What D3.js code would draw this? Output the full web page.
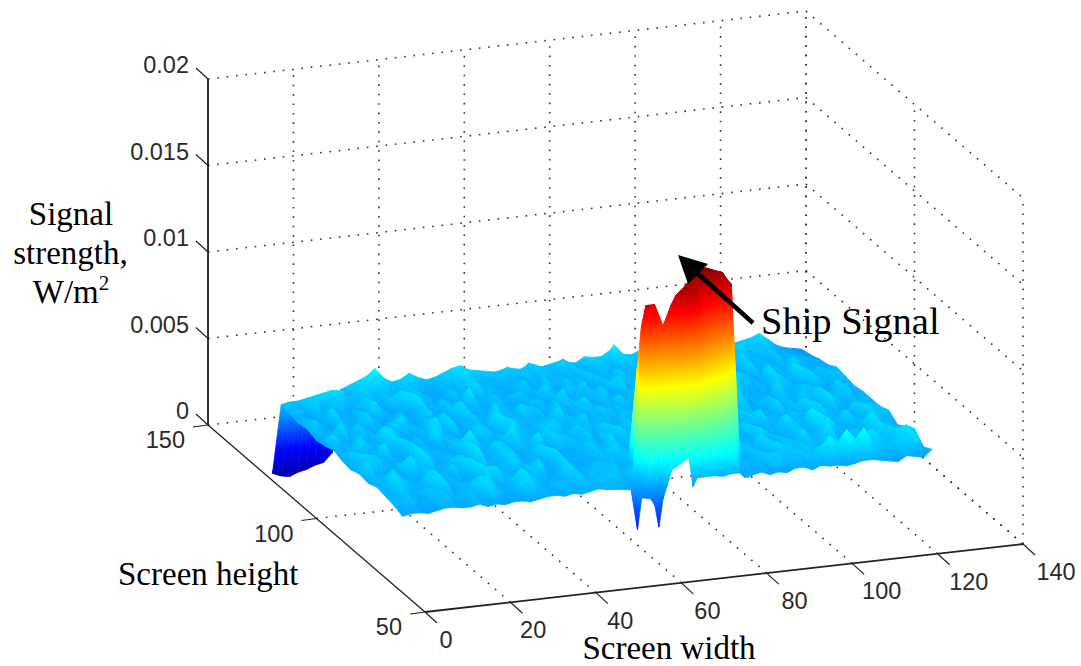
<!DOCTYPE html>
<html>
<head>
<meta charset="utf-8">
<script src="https://cdn.jsdelivr.net/npm/d3@7"></script>
<style>
  html, body { margin: 0; padding: 0; background: #fff; }
  .tick-label { font-family: "Liberation Sans", Arial, sans-serif; font-size: 23.5px; fill: #2a2a2a; }
  .serif-label { font-family: "Liberation Serif", "Times New Roman", serif; font-size: 33px; fill: #000; }
</style>
</head>
<body>
<div class="chart"></div>
<script>
const xTicks = [0, 20, 40, 60, 80, 100, 120, 140];
const yTicks = [50, 100, 150];
const zTicks = [0, 0.005, 0.01, 0.015, 0.02];

// Screen width positions of the surface columns (tighter around the ship)
const widthVals = [10, 12, 14, 16, 18, 20, 22, 24, 26, 28, 30, 32, 34, 36, 38, 40, 42, 44, 46, 48, 50, 52, 54, 56, 58,
    62, 64, 65, 66, 68, 69, 70, 71, 73, 75,
    77, 78, 79, 81, 83, 85, 87, 89, 90, 91,
    92, 94, 96, 98, 100, 102, 104, 106, 108, 110, 112, 114, 116, 118, 120, 122, 124, 126, 128, 130, 132, 134];

// Screen height of the surface rows, back to front
const heightVals = [140, 136, 132, 128, 124, 120, 116, 112, 108, 104, 100, 96, 92, 88, 84, 80];

// Signal, in units of 0.0001 W/m2, one line per row
const signalRows = [
    [-20, -22, -23, -21, -20, -18, -17, -12, 24, 26, 28, 30, 34, 28, 25, 26, 29, 26, 24, 25, 27, 29, 30, 27, 26,  24, 25, 26, 25, 24, 25, 27, 26, 24, 25,  26, 27, 25, 24, 27, 26, 26, 29, 32, 29,  26, 25, 27, 26, 25, 27, 28, 26, 26, 25, 27, 26, 25, 25, 26, 27, 29, 25, 21, 19, 18, 17],
    [24, 25, 25, 26, 27, 28, 29, 28, 23, 23, 26, 23, 24, 22, 22, 25, 23, 21, 21, 23, 22, 24, 26, 23, 22,  24, 21, 23, 22, 24, 23, 21, 25, 23, 22,  24, 22, 26, 23, 22, 25, 23, 21, 24, 22,  25, 22, 23, 26, 22, 21, 23, 26, 22, 21, 25, 22, 23, 27, 22, 24, 25, 22, 21, 20, 19, 18],
    [23, 22, 21, 27, 22, 22, 24, 21, 23, 27, 22, 21, 25, 29, 23, 22, 24, 21, 21, 26, 22, 22, 28, 23, 23,  21, 24, 27, 23, 21, 22, 26, 23, 22, 25,  22, 24, 21, 26, 23, 22, 27, 24, 21, 23,  22, 27, 23, 22, 21, 24, 22, 29, 23, 22, 21, 23, 28, 22, 23, 21, 25, 22, 23, 22, 21, 20],
    [22, 24, 21, 22, 28, 22, 21, 25, 22, 29, 23, 21, 22, 21, 30, 23, 22, 26, 23, 21, 31, 22, 22, 25, 22,  26, 22, 21, 24, 28, 23, 22, 21, 25, 23,  27, 23, 22, 21, 25, 28, 22, 23, 26, 22,  21, 22, 24, 28, 22, 21, 29, 23, 22, 26, 21, 22, 27, 21, 25, 23, 22, 28, 23, 21, 22, 21],
    [23, 27, 22, 21, 25, 21, 22, 28, 23, 21, 22, 26, 21, 23, 27, 22, 21, 24, 29, 22, 23, 21, 26, 23, 21,  22, 25, 23, 21, 23, 26, 29, 24, 22, 21,  23, 25, 28, 22, 21, 24, 23, 27, 22, 25,  23, 21, 26, 22, 27, 22, 24, 22, 21, 28, 26, 23, 21, 29, 23, 22, 29, 21, 22, 25, 23, 24],
    [21, 22, 24, 29, 22, 27, 23, 21, 22, 26, 29, 23, 21, 25, 22, 28, 22, 21, 27, 23, 22, 29, 23, 22, 28,  24, 21, 23, 27, 22, 21, 23, 25, 28, 23,  21, 23, 22, 27, 24, 22, 26, 21, 23, 26,  28, 23, 22, 21, 24, 26, 22, 28, 30, 23, 22, 23, 21, 27, 25, 22, 23, 28, 24, 21, 26, 23],
    [22, 28, 23, 21, 26, 22, 24, 29, 27, 22, 21, 23, 24, 31, 22, 28, 21, 23, 25, 22, 30, 21, 25, 23, 22,  23, 26, 29, 24, 21, 23, 22, 21, 23, 26,  24, 22, 25, 21, 23, 29, 22, 25, 27, 23,  22, 25, 26, 22, 24, 21, 27, 30, 23, 22, 22, 21, 28, 23, 22, 26, 24, 22, 21, 27, 21, 22],
    [24, 21, 23, 27, 25, 22, 22, 28, 22, 23, 25, 21, 30, 24, 23, 21, 21, 27, 26, 22, 22, 29, 24, 22, 24,  27, 22, 21, 23, 25, 28, 23, 22, 24, 21,  22, 26, 23, 24, 28, 21, 23, 22, 25, 21,  24, 28, 22, 23, 29, 22, 23, 27, 21, 23, 26, 22, 24, 21, 26, 23, 28, 22, 24, 27, 22, 23],
    [22, 26, 25, 22, 22, 29, 21, 22, 28, 24, 23, 22, 21, 24, 26, 31, 24, 22, 22, 25, 29, 23, 23, 22, 27,  21, 24, 27, 22, 23, 21, 24, 27, 21, 23,  27, 23, 21, 26, 22, 24, 29, 23, 21, 24,  22, 23, 21, 25, 29, 27, 22, 23, 22, 22, 28, 22, 24, 28, 22, 22, 29, 24, 21, 23, 23, 23],
    [21, 23, 28, 27, 23, 22, 22, 21, 29, 26, 22, 23, 22, 21, 29, 24, 21, 28, 26, 21, 24, 22, 30, 21, 26,  24, 22, 23, 26, 21, 24, 23, 22, 28, 24,  22, 21, 25, 23, 22, 27, 22, 24, 26, 23,  28, 24, 22, 24, 21, 23, 26, 29, 22, 23, 22, 25, 23, 21, 28, 23, 22, 21, 27, 26, 24, 23],
    [23, 29, 22, 21, 21, 26, 30, 24, 28, 22, 22, 25, 27, 22, 30, 22, 23, 26, 26, 21, 22, 28, 23, 21, 21,  23, 27, 24, 22, 24, 29, 25, 22, 23, 21,  25, 24, 27, 22, 25, 23, 22, 29, 23, 22,  23, 22, 28, 22, 27, 24, 21, 22, 23, 29, 25, 22, 31, 24, 22, 23, 28, 23, 22, 28, 24, 25],
    [22, 23, 24, 28, 23, 22, 21, 26, 23, 22, 27, 22, 29, 22, 24, 21, 23, 28, 23, 22, 25, 21, 29, 23, 22,  22, 26, 23, 24, 28, 24, 25, 22, 23, 26,  22, 23, 24, 24, 26, 25, 24, 25, 24, 26,  22, 27, 23, 23, 21, 28, 24, 22, 22, 25, 23, 22, 27, 29, 24, 22, 22, 25, 30, 24, 22, 21],
    [24, 22, 29, 26, 23, 22, 27, 29, 22, 23, 21, 22, 24, 28, 28, 23, 22, 23, 26, 29, 21, 22, 28, 23, 21,  24, 22, 25, 23, 22, 24, 23, 24, 60, 85,  60, 70, 85, 100, 110, 108, 106, 100, 60, 24,  23, 26, 24, 23, 28, 22, 23, 25, 22, 29, 23, 24, 30, 21, 22, 26, 23, 24, 28, 23, 24, 24],
    [23, 22, 26, 22, 22, 25, 22, 28, 21, 23, 24, 28, 28, 22, 22, 25, 30, 26, 23, 22, 22, 26, 27, 21, 24,  24, 26, 23, 22, 24, 80, 100, 112, 105, 100,  115, 120, 122, 127, 132, 134, 132, 130, 126, 123,  23, 22, 25, 24, 22, 28, 25, 24, 26, 23, 23, 29, 25, 22, 24, 23, 30, 25, 24, 28, 30, 27],
    [22, 23, 24, 21, 21, 24, 26, 22, 23, 24, 22, 28, 25, 21, 21, 27, 27, 23, 21, 24, 24, 22, 26, 23, 24,  25, 22, 24, 26, 110, 121, 121, 121, 108, 120,  127, 128, 131, 125, 100, 85, 70, 55, 22, 23,  24, 22, 22, 26, 27, 23, 23, 25, 24, 28, 33, 29, 36, 30, 36, 28, 25, 24, 26, 27, 29, 21],
    [20, 21, 21, 20, 21, 22, 22, 21, 21, 22, 20, 21, 20, 21, 21, 20, 21, 22, 22, 21, 22, 21, 22, 23, 22,  21, 20, -3, 15, 14, 10, -3, 13, 29, 32,  35, 18, 23, 23, 23, 22, 23, 23, 20, 20,  21, 22, 20, 21, 20, 22, 22, 20, 22, 21, 21, 20, 21, 22, 22, 21, 20, 19, 22, 21, 20, 24]
];

const jetStops = [0, 0.125, 0.375, 0.625, 0.875, 1];
const jetColors = ['#00008f', '#0000ff', '#00ffff', '#ffff00', '#ff0000', '#800000'];
const colorLimits = [-0.0026, 0.0135];

const width = 1081;
const height = 666;
const ink = '#222';

const svg = d3.select('.chart').append('svg')
    .attr('width', width)
    .attr('height', height)
    .style('display', 'block');
const defs = svg.append('defs');

// Oblique 3D axes: every data axis adds its own screen offset to the back corner
const origin = [208, 425];
const xToPx = d3.scaleLinear().domain([0, 140]).range([0, 598]);
const xToPy = d3.scaleLinear().domain([0, 140]).range([0, -68]);
const yToPx = d3.scaleLinear().domain([150, 50]).range([0, 217]);
const yToPy = d3.scaleLinear().domain([150, 50]).range([0, 187]);
const zToPy = d3.scaleLinear().domain([0, 0.02]).range([0, -346]);

const project = (x, y, z) => [
    origin[0] + xToPx(x) + yToPx(y),
    origin[1] + xToPy(x) + yToPy(y) + zToPy(z),
];

const zKnots = jetStops.map(d => colorLimits[0] + d * (colorLimits[1] - colorLimits[0]));
const jet = d3.scaleLinear().domain(zKnots).range(jetColors).clamp(true);

// add the dotted grid on the floor and the two walls
const gridSegments = [];
const addSegment = (a, b) => gridSegments.push([project(...a), project(...b)]);
const zMax = d3.max(zTicks);
xTicks.slice(1).forEach((x) => {
    addSegment([x, 150, 0], [x, 150, zMax]);
    addSegment([x, 50, 0], [x, 150, 0]);
});
yTicks.forEach((y) => {
    addSegment([140, y, 0], [140, y, zMax]);
    if (y > 50) addSegment([0, y, 0], [140, y, 0]);
});
addSegment([140, 50, 0], [140, 150, 0]);
zTicks.slice(1).forEach((z) => {
    addSegment([0, 150, z], [140, 150, z]);
    addSegment([140, 150, z], [140, 50, z]);
});

svg.append('g').selectAll('line')
    .data(gridSegments)
    .join('line')
    .attr('x1', d => d[0][0])
    .attr('y1', d => d[0][1])
    .attr('x2', d => d[1][0])
    .attr('y2', d => d[1][1])
    .attr('stroke', '#333')
    .attr('stroke-width', 1.6)
    .attr('stroke-dasharray', '1.6 7.8');

// Build the surface triangles, far ones first so nearer ones paint over them
const vertex = (i, j) => {
    const z = signalRows[j][i] * 0.0001;
    const [px, py] = project(widthVals[i], heightVals[j], z);
    return {px, py, z};
};
const triangles = [];
heightVals.slice(1).forEach((_, j) => {
    for (let i = widthVals.length - 2; i >= 0; i--) {
        const a = vertex(i, j);
        const b = vertex(i + 1, j);
        const c = vertex(i + 1, j + 1);
        const e = vertex(i, j + 1);
        // split each cell along its flatter diagonal
        if (Math.abs(a.z - c.z) > Math.abs(b.z - e.z)) {
            triangles.push([a, b, e], [b, c, e]);
        } else {
            triangles.push([a, b, c], [a, c, e]);
        }
    }
});

// Colour is linear in a triangle, so one linear gradient across it is enough
const gradientEnds = (tri) => {
    const [lo, mid, hi] = d3.sort(tri, d => d.z);
    if (hi.z === lo.z) return {x1: lo.px, y1: lo.py, x2: hi.px, y2: hi.py};
    const f = (mid.z - lo.z) / (hi.z - lo.z);
    const mx = lo.px + f * (hi.px - lo.px);
    const my = lo.py + f * (hi.py - lo.py);
    const nx = my - mid.py;
    const ny = mid.px - mx;
    const nn = nx * nx + ny * ny;
    if (nn < 1e-6) return {x1: lo.px, y1: lo.py, x2: hi.px, y2: hi.py};
    const s = ((hi.px - lo.px) * nx + (hi.py - lo.py) * ny) / nn;
    return {x1: lo.px, y1: lo.py, x2: lo.px + s * nx, y2: lo.py + s * ny};
};

const gradients = defs.selectAll('linearGradient')
    .data(triangles)
    .join('linearGradient')
    .attr('id', (d, i) => 'face' + i)
    .attr('gradientUnits', 'userSpaceOnUse')
    .each(function (d) {
        const ends = gradientEnds(d);
        d3.select(this).attr('x1', ends.x1).attr('y1', ends.y1).attr('x2', ends.x2).attr('y2', ends.y2);
    });

gradients.selectAll('stop')
    .data((d) => {
        const [lo, hi] = d3.extent(d, v => v.z);
        if (hi === lo) return [{offset: 0, z: lo}, {offset: 1, z: hi}];
        const inner = zKnots.filter(k => k > lo && k < hi);
        return [lo, ...inner, hi].map(z => ({offset: (z - lo) / (hi - lo), z}));
    })
    .join('stop')
    .attr('offset', d => d.offset)
    .attr('stop-color', d => jet(d.z));

const faceLine = d3.line().x(d => d.px).y(d => d.py);
svg.append('g').selectAll('path')
    .data(triangles)
    .join('path')
    .attr('d', d => faceLine(d) + 'Z')
    .attr('fill', (d, i) => `url(#face${i})`)
    .attr('stroke', (d, i) => `url(#face${i})`)
    .attr('stroke-width', 0.7)
    .attr('stroke-linejoin', 'round');

// add the solid axes and their ticks
const axes = svg.append('g').attr('stroke', ink).attr('fill', 'none');
const drawLine = (a, b, w) => axes.append('line')
    .attr('x1', a[0]).attr('y1', a[1])
    .attr('x2', b[0]).attr('y2', b[1])
    .attr('stroke-width', w);

drawLine(project(0, 150, 0), project(0, 150, zMax), 1.8);
drawLine(project(0, 150, 0), project(0, 50, 0), 1.3);
drawLine(project(0, 50, 0), project(140, 50, 0), 1.8);

const labels = svg.append('g');
const tickLabel = (x, y, anchor, text) => labels.append('text')
    .attr('class', 'tick-label')
    .attr('x', x)
    .attr('y', y)
    .attr('text-anchor', anchor)
    .attr('dominant-baseline', 'central')
    .text(text);

zTicks.forEach((z) => {
    const p = project(0, 150, z);
    drawLine(p, [p[0] - 12, p[1] - 11], 1.2);
    tickLabel(p[0] - 19, p[1] - 14, 'end', z);
});

const xLabelShift = d3.scaleLinear().domain([0, 140]).range([21, 33]);
xTicks.forEach((x) => {
    const p = project(x, 50, 0);
    drawLine(p, [p[0] + 12, p[1] + 11], 1.2);
    tickLabel(p[0] + xLabelShift(x), p[1] + 28, 'middle', x);
});

yTicks.forEach((y) => {
    const p = project(0, y, 0);
    drawLine(p, [p[0] - 15, p[1] + 2], 1.2);
    tickLabel(p[0] - 23, p[1] + 15, 'end', y);
});

// Axis titles
const serif = (x, y, anchor, text) => svg.append('text')
    .attr('class', 'serif-label')
    .attr('x', x)
    .attr('y', y)
    .attr('text-anchor', anchor)
    .text(text);

serif(71, 225, 'middle', 'Signal');
serif(70.5, 264, 'middle', 'strength,');
const unit = serif(71, 303, 'middle', 'W/m');
unit.append('tspan').attr('dy', -13).style('font-size', '21px').text('2');
serif(118, 585, 'start', 'Screen height');
serif(669, 659, 'middle', 'Screen width');
serif(761, 334, 'start', 'Ship Signal').style('font-size', '38.5px');

// Arrow pointing at the ship peak
svg.append('line')
    .attr('x1', 753).attr('y1', 323)
    .attr('x2', 695).attr('y2', 271)
    .attr('stroke', '#000')
    .attr('stroke-width', 4.5);
svg.append('path')
    .attr('d', d3.line()([[678, 255], [708, 264], [688, 284]]) + 'Z')
    .attr('fill', '#000');
</script>
</body>
</html>
